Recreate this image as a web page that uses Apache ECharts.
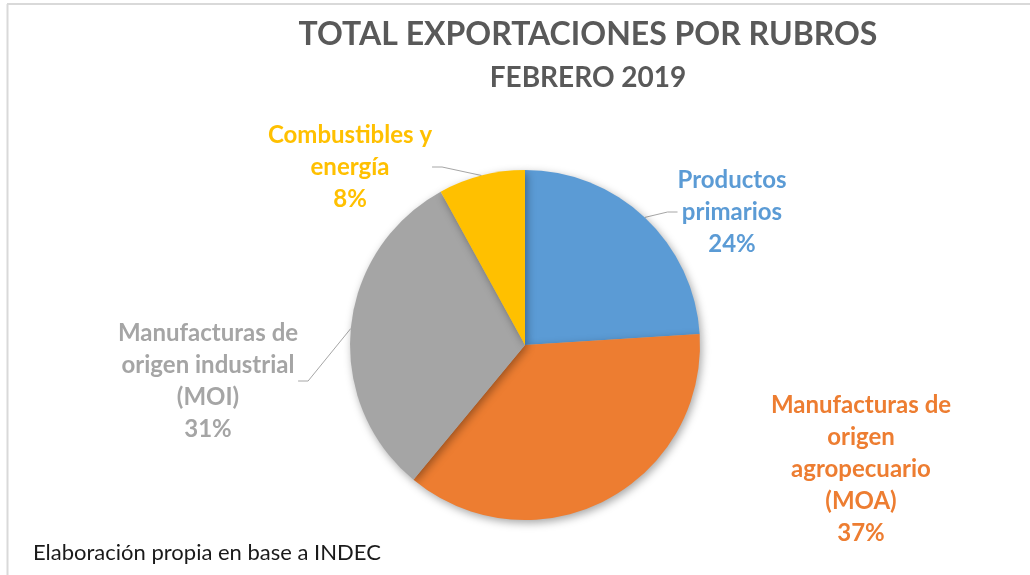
<!DOCTYPE html>
<html>
<head>
<meta charset="utf-8">
<script src="https://cdn.jsdelivr.net/npm/echarts@6/dist/echarts.min.js"></script>
<style>
html,body{margin:0;padding:0;background:#fff;}
#chart{width:1030px;height:575px;}
</style>
</head>
<body>
<div id="chart"></div>
<script>
const titleText = 'TOTAL EXPORTACIONES POR RUBROS';
const subtitleText = 'FEBRERO 2019';
const footerText = 'Elaboración propia en base a INDEC';
const categories = [
  'Productos\nprimarios',
  'Manufacturas de\norigen\nagropecuario\n(MOA)',
  'Manufacturas de\norigen industrial\n(MOI)',
  'Combustibles y\nenergía'
];
const values = [24, 37, 31, 8];
const colors = ['#5B9BD5', '#ED7D31', '#A5A5A5', '#FFC000'];
const showLeader = [true, false, true, true];

const FONT = 'Lato, "Open Sans", sans-serif';
const labelPos = [
  {x: 732, y: 212},
  {x: 861, y: 469},
  {x: 208, y: 381},
  {x: 350, y: 167}
];

const chart = echarts.init(document.getElementById('chart'));
chart.setOption({
  animation: false,
  backgroundColor: '#fff',
  title: [
    {text: titleText, left: 583, top: 14, textAlign: 'center',
     textStyle: {fontFamily: FONT, fontWeight: 'bold', fontSize: 32, color: '#595959'}},
    {text: subtitleText, left: 583, top: 59, textAlign: 'center',
     textStyle: {fontFamily: FONT, fontWeight: 'bold', fontSize: 28, color: '#595959'}},
    {text: footerText, left: 28, top: 537,
     textStyle: {fontFamily: FONT, fontWeight: 'normal', fontSize: 22, color: '#1a1a1a'}}
  ],
  graphic: [
    {type: 'line', shape: {x1: 7, y1: 4, x2: 1030, y2: 4}, style: {stroke: '#d9d9d9', lineWidth: 2}},
    {type: 'line', shape: {x1: 7.5, y1: 4, x2: 7.5, y2: 575}, style: {stroke: '#d9d9d9', lineWidth: 2}}
  ],
  series: [{
    type: 'pie',
    center: [525, 345],
    radius: [0, 175],
    startAngle: 90,
    clockwise: true,
    label: {
      show: true,
      formatter: '{b}\n{d}%',
      fontFamily: FONT,
      fontWeight: 'bold',
      fontSize: 24,
      lineHeight: 32,
      align: 'center'
    },
    labelLine: {show: true, length: 10, length2: 10, lineStyle: {color: '#A6A6A6', width: 1}},
    labelLayout: function (p) {
      const pos = labelPos[p.dataIndex];
      return {x: pos.x, y: pos.y, align: 'center', verticalAlign: 'middle'};
    },
    itemStyle: {shadowBlur: 8, shadowColor: 'rgba(0,0,0,0.35)', shadowOffsetX: 2, shadowOffsetY: 3},
    emphasis: {disabled: true},
    data: categories.map((c, i) => ({
      name: c,
      value: values[i],
      itemStyle: {color: colors[i]},
      label: {color: colors[i]},
      labelLine: {show: showLeader[i]}
    }))
  }]
});
</script>
</body>
</html>
